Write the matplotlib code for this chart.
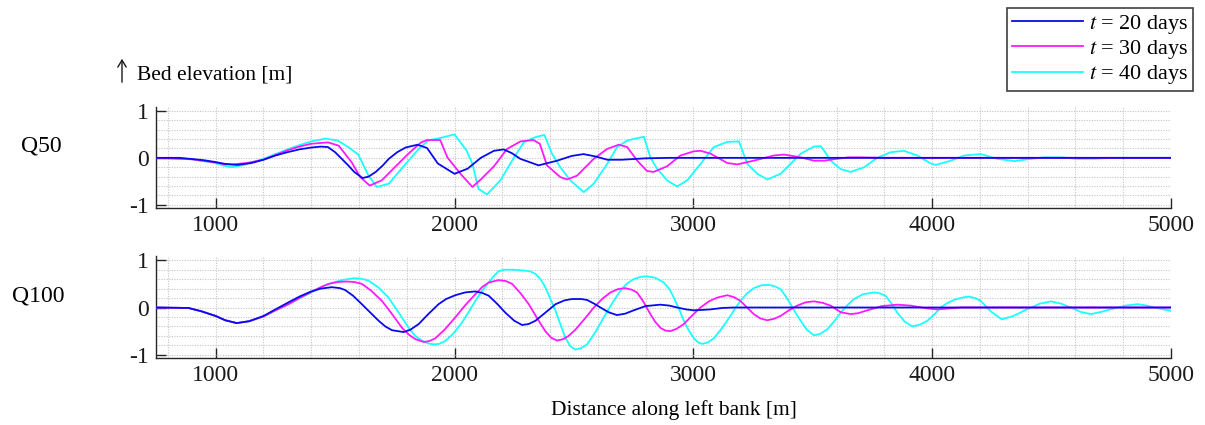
import numpy as np
import matplotlib
matplotlib.use("Agg")
import matplotlib.pyplot as plt
from matplotlib.ticker import MultipleLocator, FixedLocator

plt.rcParams['font.family'] = ['Liberation Serif', 'DejaVu Serif']
plt.rcParams['mathtext.fontset'] = 'stix'
plt.rcParams['axes.unicode_minus'] = False

# ---------------- data: Q50 ----------------
q50_t20_x = [750, 850, 950, 1000, 1040, 1090, 1150, 1200, 1250, 1300, 1350, 1400, 1440, 1470, 1500, 1555,
             1580, 1615, 1640, 1670, 1700, 1725, 1760, 1795, 1845, 1885, 1930, 2000, 2055, 2110, 2165,
             2205, 2240, 2275, 2352, 2430, 2490, 2540, 2590, 2640, 2700, 2800, 2900, 5000]
q50_t20_y = [0, 0.0, -0.05, -0.09, -0.13, -0.15, -0.11, -0.04, 0.05, 0.12, 0.18, 0.22, 0.24, 0.23, 0.12, -0.16,
             -0.30, -0.43, -0.40, -0.30, -0.16, -0.02, 0.12, 0.22, 0.28, 0.21, -0.12, -0.34, -0.23, 0.0, 0.15,
             0.18, 0.10, -0.02, -0.16, -0.06, 0.04, 0.08, 0.03, -0.04, -0.04, -0.01, 0.0, 0.0]

q50_t30_x = [750, 900, 1000, 1030, 1070, 1130, 1200, 1250, 1300, 1350, 1400, 1470, 1515, 1570, 1605, 1645,
             1695, 1750, 1805, 1860, 1885, 1940, 1970, 2025, 2075, 2110, 2165, 2220, 2276, 2330, 2357, 2387,
             2443, 2471, 2513, 2583, 2639, 2688, 2723, 2765, 2806, 2834, 2890, 2946, 3002, 3030, 3072, 3142,
             3184, 3253, 3337, 3380, 3450, 3505, 3550, 3600, 3650, 3700, 3800, 5000]
q50_t30_y = [0, -0.03, -0.10, -0.13, -0.14, -0.11, -0.04, 0.06, 0.16, 0.24, 0.30, 0.33, 0.26, -0.10, -0.41, -0.59,
             -0.48, -0.20, 0.08, 0.33, 0.38, 0.38, 0.01, -0.34, -0.62, -0.46, -0.18, 0.19, 0.35, 0.38, 0.30, -0.16,
             -0.41, -0.46, -0.38, -0.02, 0.19, 0.28, 0.23, -0.06, -0.28, -0.30, -0.18, 0.05, 0.14, 0.15, 0.09, -0.11,
             -0.14, -0.06, 0.05, 0.07, 0.01, -0.06, -0.06, -0.02, 0.01, 0.01, 0.0, 0.0]

q50_t40_x = [750, 900, 1000, 1030, 1065, 1110, 1150, 1200, 1250, 1300, 1350, 1400, 1460, 1510, 1555, 1597,
             1640, 1675, 1725, 1795, 1850, 1890, 1945, 2000, 2050, 2075, 2100, 2136, 2192, 2248, 2290, 2332,
             2376, 2408, 2443, 2485, 2541, 2583, 2639, 2681, 2723, 2793, 2820, 2848, 2890, 2932, 2974, 3030,
             3086, 3142, 3191, 3226, 3268, 3310, 3365, 3450, 3505, 3533, 3547, 3575, 3617, 3659, 3715, 3770,
             3826, 3882, 3938, 3994, 4015, 4078, 4134, 4203, 4273, 4343, 4399, 4469, 4539, 4609, 4678, 4748, 5000]
q50_t40_y = [0, -0.03, -0.11, -0.16, -0.20, -0.16, -0.10, -0.02, 0.08, 0.18, 0.27, 0.35, 0.41, 0.37, 0.23, 0.07,
             -0.38, -0.62, -0.55, -0.13, 0.19, 0.37, 0.43, 0.50, 0.16, -0.13, -0.66, -0.78, -0.48, 0.0, 0.33, 0.43,
             0.49, 0.09, -0.20, -0.48, -0.73, -0.55, -0.13, 0.23, 0.37, 0.45, 0.01, -0.23, -0.48, -0.61, -0.48, -0.13,
             0.23, 0.34, 0.35, -0.13, -0.34, -0.46, -0.34, 0.09, 0.24, 0.25, 0.16, -0.06, -0.24, -0.30, -0.20, 0.0,
             0.12, 0.15, 0.05, -0.12, -0.15, -0.06, 0.05, 0.08, -0.02, -0.07, -0.03, 0.01, 0.01, -0.02, -0.02, 0.0, 0.0]

# ---------------- data: Q100 ----------------
q100_t20_x = [750, 886, 940, 1000, 1040, 1088, 1140, 1200, 1250, 1305, 1350, 1400, 1440, 1486, 1520, 1542,
              1575, 1612, 1650, 1682, 1710, 1738, 1787, 1815, 1850, 1890, 1933, 1965, 2003, 2045, 2087, 2115,
              2143, 2180, 2213, 2250, 2283, 2310, 2339, 2380, 2423, 2460, 2492, 2530, 2555, 2585, 2611, 2645,
              2680, 2715, 2750, 2800, 2862, 2900, 2932, 2970, 3002, 3040, 3072, 3120, 3169, 5000]
q100_t20_y = [0, -0.01, -0.08, -0.18, -0.27, -0.33, -0.29, -0.18, -0.04, 0.11, 0.23, 0.34, 0.40, 0.43, 0.41, 0.37,
              0.25, 0.07, -0.12, -0.28, -0.40, -0.48, -0.52, -0.47, -0.35, -0.14, 0.07, 0.18, 0.26, 0.32, 0.34, 0.31,
              0.25, 0.07, -0.11, -0.28, -0.37, -0.35, -0.28, -0.11, 0.07, 0.15, 0.18, 0.18, 0.16, 0.08, 0.0, -0.10,
              -0.16, -0.13, -0.06, 0.03, 0.06, 0.04, 0.0, -0.04, -0.06, -0.05, -0.04, -0.01, 0.0, 0.0]

q100_t30_x = [750, 886, 940, 1000, 1040, 1088, 1140, 1200, 1250, 1305, 1350, 1400, 1440, 1473, 1510, 1549,
              1580, 1612, 1650, 1696, 1740, 1780, 1810, 1836, 1871, 1895, 1920, 1960, 2003, 2045, 2087, 2115,
              2143, 2185, 2215, 2241, 2275, 2311, 2345, 2380, 2405, 2429, 2455, 2478, 2506, 2545, 2583, 2620,
              2653, 2685, 2715, 2740, 2764, 2790, 2820, 2840, 2862, 2884, 2904, 2930, 2960, 2995, 3030, 3065,
              3100, 3142, 3170, 3197, 3225, 3253, 3280, 3309, 3337, 3365, 3400, 3435, 3470, 3505, 3540, 3575,
              3617, 3659, 3690, 3728, 3790, 3854, 3910, 3980, 4022, 4070, 4120, 5000]
q100_t30_y = [0, -0.01, -0.08, -0.18, -0.27, -0.33, -0.29, -0.19, -0.06, 0.07, 0.20, 0.33, 0.43, 0.50, 0.54, 0.55,
              0.54, 0.50, 0.36, 0.14, -0.15, -0.43, -0.58, -0.67, -0.73, -0.71, -0.65, -0.46, -0.21, 0.05, 0.28, 0.43,
              0.53, 0.58, 0.56, 0.50, 0.31, 0.07, -0.22, -0.50, -0.64, -0.70, -0.67, -0.60, -0.47, -0.24, 0.0, 0.19,
              0.32, 0.39, 0.41, 0.38, 0.32, 0.13, -0.14, -0.30, -0.43, -0.49, -0.50, -0.45, -0.35, -0.17, 0.0, 0.13,
              0.21, 0.26, 0.22, 0.14, 0.0, -0.14, -0.23, -0.27, -0.24, -0.18, -0.06, 0.04, 0.11, 0.13, 0.10, 0.04,
              -0.10, -0.14, -0.12, -0.06, 0.03, 0.06, 0.04, -0.02, -0.04, -0.02, 0.0, 0.0]

q100_t40_x = [750, 886, 940, 1000, 1040, 1088, 1140, 1200, 1250, 1305, 1350, 1400, 1440, 1473, 1528, 1577,
              1610, 1640, 1680, 1724, 1765, 1808, 1835, 1864, 1890, 1912, 1935, 1961, 1995, 2031, 2060, 2087,
              2115, 2143, 2165, 2185, 2210, 2241, 2270, 2297, 2320, 2339, 2360, 2380, 2400, 2423, 2445, 2464,
              2485, 2506, 2530, 2555, 2590, 2625, 2660, 2694, 2720, 2750, 2780, 2806, 2840, 2876, 2900, 2918,
              2940, 2960, 2980, 3002, 3020, 3037, 3060, 3086, 3115, 3142, 3170, 3197, 3225, 3253, 3285, 3316,
              3340, 3365, 3385, 3407, 3428, 3449, 3475, 3505, 3530, 3561, 3590, 3617, 3645, 3673, 3710, 3756,
              3780, 3805, 3830, 3854, 3885, 3917, 3950, 3980, 4010, 4036, 4065, 4092, 4125, 4154, 4180, 4203,
              4245, 4291, 4340, 4400, 4450, 4498, 4540, 4580, 4620, 4664, 4710, 4760, 4810, 4861, 4900, 4930, 5000]
q100_t40_y = [0, -0.01, -0.08, -0.18, -0.27, -0.33, -0.29, -0.19, -0.06, 0.07, 0.19, 0.32, 0.43, 0.50, 0.58, 0.62,
              0.61, 0.57, 0.43, 0.21, -0.10, -0.43, -0.60, -0.70, -0.76, -0.78, -0.77, -0.71, -0.55, -0.32, -0.09, 0.14,
              0.35, 0.53, 0.67, 0.77, 0.80, 0.80, 0.79, 0.78, 0.76, 0.71, 0.60, 0.43, 0.20, -0.07, -0.38, -0.64,
              -0.82, -0.89, -0.86, -0.78, -0.52, -0.21, 0.09, 0.35, 0.50, 0.60, 0.65, 0.66, 0.63, 0.53, 0.39, 0.21,
              -0.03, -0.28, -0.48, -0.65, -0.74, -0.77, -0.74, -0.65, -0.47, -0.28, -0.06, 0.14, 0.30, 0.41, 0.47, 0.48,
              0.45, 0.39, 0.25, 0.07, -0.11, -0.28, -0.47, -0.59, -0.56, -0.46, -0.29, -0.11, 0.05, 0.18, 0.28, 0.32,
              0.30, 0.25, 0.08, -0.11, -0.30, -0.40, -0.36, -0.28, -0.14, 0.0, 0.10, 0.16, 0.21, 0.23, 0.20, 0.14,
              -0.08, -0.25, -0.18, -0.03, 0.08, 0.13, 0.08, 0.0, -0.09, -0.14, -0.09, -0.02, 0.04, 0.07, 0.04, 0.0, -0.07]

labels = ['$t$ = 20 days', '$t$ = 30 days', '$t$ = 40 days']
colors = ['#0a0aee', '#ff1aff', '#1affff']
panel_names = ['Q50', 'Q100']
x_ticks = [1000, 2000, 3000, 4000, 5000]
y_ticks = [-1, 0, 1]

panels = [
    [(q50_t20_x, q50_t20_y), (q50_t30_x, q50_t30_y), (q50_t40_x, q50_t40_y)],
    [(q100_t20_x, q100_t20_y), (q100_t30_x, q100_t30_y), (q100_t40_x, q100_t40_y)],
]

fig = plt.figure(figsize=(12.05, 4.25), dpi=100)
W, H = 1205, 425
ax_left, ax_right = 156 / W, 1171 / W
positions = [(106.7, 208.3), (256, 358.3)]

for (top, bot), series, name in zip(positions, panels, panel_names):
    ax = fig.add_axes([ax_left, 1 - bot / H, ax_right - ax_left, (bot - top) / H])
    # draw 40, 30, 20 so that 20 days is on top
    for i in [2, 1, 0]:
        xs, ys = series[i]
        ax.plot(xs, ys, color=colors[i], lw=1.3, label=labels[i], zorder=3 + (2 - i))
    ax.set_xlim(750, 5000)
    ax.set_ylim(-1.075, 1.09)
    ax.xaxis.set_major_locator(FixedLocator(x_ticks))
    ax.yaxis.set_major_locator(FixedLocator(y_ticks))
    ax.xaxis.set_minor_locator(MultipleLocator(200))
    ax.yaxis.set_minor_locator(MultipleLocator(0.2))
    ax.grid(True, which='both', color='#c4c4c4', linestyle=(0, (1, 1.3)), linewidth=0.8, zorder=0)
    ax.tick_params(which='major', direction='in', length=7, width=1, labelsize=17,
                   color='#262626', labelcolor='#1a1a1a')
    ax.tick_params(axis='x', which='major', pad=5)
    ax.tick_params(axis='y', which='major', pad=5)
    ax.tick_params(which='minor', length=0)
    for s in ['top', 'right']:
        ax.spines[s].set_visible(False)
    for s in ['left', 'bottom']:
        ax.spines[s].set_color('#262626')
        ax.spines[s].set_linewidth(1.0)
    ax.set_axisbelow(True)

fig.text(41 / W, 1 - 146 / H, 'Q50', fontsize=17, ha='center', va='center')
fig.text(38 / W, 1 - 296 / H, 'Q100', fontsize=17, ha='center', va='center')
fig.text(137 / W, 1 - 75 / H, 'Bed elevation [m]', fontsize=15.5, ha='left', va='center')
fig.text(674 / W, 1 - 410 / H, 'Distance along left bank [m]', fontsize=15.5, ha='center', va='center')
fig.patches.append(matplotlib.patches.FancyArrowPatch(
    (122 / W, 1 - 85 / H), (122 / W, 1 - 56 / H), transform=fig.transFigure,
    arrowstyle='->,head_length=5,head_width=3', color='#1a1a1a', lw=1.0, mutation_scale=1))

handles = [plt.Line2D([], [], color=c, lw=1.3) for c in colors]
leg = fig.legend(handles, labels, loc='upper right', bbox_to_anchor=(1193 / W, 1 - 8 / H),
                 fontsize=16, frameon=True, fancybox=False, framealpha=1, edgecolor='#404040',
                 handlelength=3.2, handletextpad=0.25, labelspacing=0.1, borderpad=0.22,
                 borderaxespad=0)
leg.get_frame().set_linewidth(1.2)

fig.savefig('out.png', dpi=100)
